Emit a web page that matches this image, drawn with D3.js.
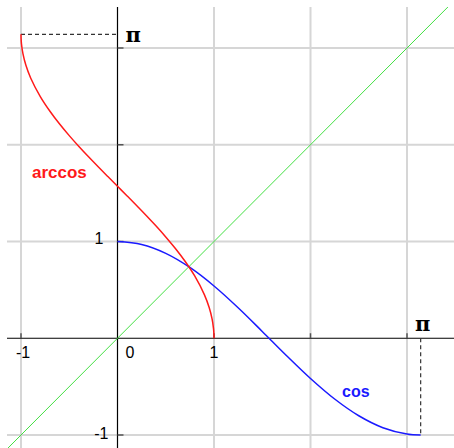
<!DOCTYPE html>
<html>
<head>
<meta charset="utf-8">
<script src="https://cdn.jsdelivr.net/npm/d3@7"></script>
<style>
  html, body { margin: 0; padding: 0; background: #ffffff; }
  svg { display: block; }
</style>
</head>
<body>
<script>
// Sample points of arccos on [-1, 1]
const arccosX = [-1, -0.999, -0.995, -0.98, -0.95, -0.9, -0.8, -0.7, -0.6, -0.5, -0.4, -0.3, -0.2, -0.1,
                 0, 0.1, 0.2, 0.3, 0.4, 0.5, 0.6, 0.7, 0.8, 0.9, 0.95, 0.98, 0.995, 0.999, 1];
const arccosY = [3.1416, 3.0969, 3.0416, 2.9413, 2.8240, 2.6906, 2.4981, 2.3462, 2.2143, 2.0944, 1.9823, 1.8755, 1.7722, 1.6710,
                 1.5708, 1.4706, 1.3694, 1.2661, 1.1593, 1.0472, 0.9273, 0.7954, 0.6435, 0.4510, 0.3176, 0.2003, 0.1000, 0.0447, 0];

// Sample points of cos on [0, π]
const cosX = [0, 0.25, 0.5, 0.75, 1, 1.25, 1.5, 1.75, 2, 2.25, 2.5, 2.75, 3, 3.1416];
const cosY = [1, 0.9689, 0.8776, 0.7317, 0.5403, 0.3153, 0.0707, -0.1782, -0.4161, -0.6282, -0.8011, -0.9243, -0.9900, -1];

// Identity line y = x
const identityX = [-1.3, 3.6];

// Grid values and axis labels
const gridX = [-1, 1, 2, 3];
const gridY = [-1, 1, 2, 3];
const xTickLabels = ["-1", "0", "1"];
const xTickValues = [-1, 0, 1];
const yTickLabels = ["1", "-1"];
const yTickValues = [1, -1];
const PI = Math.PI;

const W = 454, H = 448;
const padL = 7, padT = 7, padR = W, padB = H;

const x = d3.scaleLinear().domain([-1, 3]).range([21, 407]);
const y = d3.scaleLinear().domain([-1, 3]).range([435, 48]);

const svg = d3.select("body").append("svg")
  .attr("width", W).attr("height", H)
  .style("font-family", "'Liberation Sans', Arial, sans-serif");

svg.append("defs").append("clipPath").attr("id", "plot")
  .append("rect").attr("x", padL).attr("y", padT)
  .attr("width", padR - padL).attr("height", padB - padT);

// Grid
const grid = svg.append("g").attr("stroke", "#d6d6d6").attr("stroke-width", 2);
grid.selectAll("line.v").data(gridX).join("line")
  .attr("class", "v")
  .attr("x1", d => x(d)).attr("x2", d => x(d))
  .attr("y1", padT).attr("y2", padB);
grid.selectAll("line.h").data(gridY).join("line")
  .attr("class", "h")
  .attr("x1", padL).attr("x2", padR)
  .attr("y1", d => y(d)).attr("y2", d => y(d));

// Axes
const axes = svg.append("g").attr("stroke", "#000").attr("stroke-width", 1.2);
axes.append("line")
  .attr("x1", padL).attr("x2", padR)
  .attr("y1", y(0)).attr("y2", y(0));
axes.append("line")
  .attr("x1", x(0)).attr("x2", x(0))
  .attr("y1", padT).attr("y2", padB);

// Tick marks
const ticks = svg.append("g").attr("stroke", "#555").attr("stroke-width", 1.5);
ticks.selectAll("line.xt").data(gridX).join("line")
  .attr("class", "xt")
  .attr("x1", d => x(d)).attr("x2", d => x(d))
  .attr("y1", y(0) - 5).attr("y2", y(0));
ticks.selectAll("line.yt").data(gridY).join("line")
  .attr("class", "yt")
  .attr("x1", x(0)).attr("x2", x(0) + 6)
  .attr("y1", d => y(d)).attr("y2", d => y(d));

// Dashed guides at π
const guides = svg.append("g").attr("stroke", "#333").attr("stroke-width", 1.2)
  .attr("stroke-dasharray", "4,3");
guides.append("line")
  .attr("x1", x(-1)).attr("x2", x(0))
  .attr("y1", y(PI)).attr("y2", y(PI));
guides.append("line")
  .attr("x1", x(PI)).attr("x2", x(PI))
  .attr("y1", y(0)).attr("y2", y(-1));

// Curves
const plot = svg.append("g").attr("clip-path", "url(#plot)");
const line = d3.line().x(d => x(d[0])).y(d => y(d[1])).curve(d3.curveCatmullRom.alpha(0.5));

plot.append("path")
  .datum(identityX.map(v => [v, v]))
  .attr("d", d3.line().x(d => x(d[0])).y(d => y(d[1])))
  .attr("fill", "none").attr("stroke", "#44e044").attr("stroke-width", 1);

plot.append("path")
  .datum(cosX.map((v, i) => [v, cosY[i]]))
  .attr("d", line)
  .attr("fill", "none").attr("stroke", "#1a1aff").attr("stroke-width", 1.5);

plot.append("path")
  .datum(arccosX.map((v, i) => [v, arccosY[i]]))
  .attr("d", line)
  .attr("fill", "none").attr("stroke", "#ff1a1a").attr("stroke-width", 1.5);

// Axis labels
const labels = svg.append("g").attr("fill", "#000").attr("font-size", 16);
labels.selectAll("text.xl").data(xTickValues).join("text")
  .attr("class", "xl")
  .attr("x", d => d === 0 ? x(0) + 8 : x(d) + (d < 0 ? 2 : 0))
  .attr("y", y(0) + 20)
  .attr("text-anchor", d => d === 0 ? "start" : "middle")
  .text((d, i) => xTickLabels[i]);
labels.selectAll("text.yl").data(yTickValues).join("text")
  .attr("class", "yl")
  .attr("x", d => d < 0 ? x(0) - 9 : x(0) - 14)
  .attr("y", d => d < 0 ? y(d) + 4 : y(d) + 2)
  .attr("text-anchor", "end")
  .text((d, i) => yTickLabels[i]);

// π labels
const piLabels = svg.append("g").attr("fill", "#000")
  .style("font-family", "'DejaVu Serif', 'Liberation Serif', serif")
  .attr("font-weight", "bold").attr("font-size", 21);
piLabels.append("text")
  .attr("x", x(0) + 8).attr("y", y(PI) + 8)
  .text("π");
piLabels.append("text")
  .attr("x", x(PI) + 2).attr("y", y(0) - 7)
  .attr("text-anchor", "middle")
  .text("π");

// Curve names
svg.append("text")
  .attr("x", 32).attr("y", 178)
  .attr("fill", "#ff1a1a").attr("font-weight", "bold").attr("font-size", 17)
  .text("arccos");
svg.append("text")
  .attr("x", 342).attr("y", 397)
  .attr("fill", "#1a1aff").attr("font-weight", "bold").attr("font-size", 16)
  .text("cos");
</script>
</body>
</html>
